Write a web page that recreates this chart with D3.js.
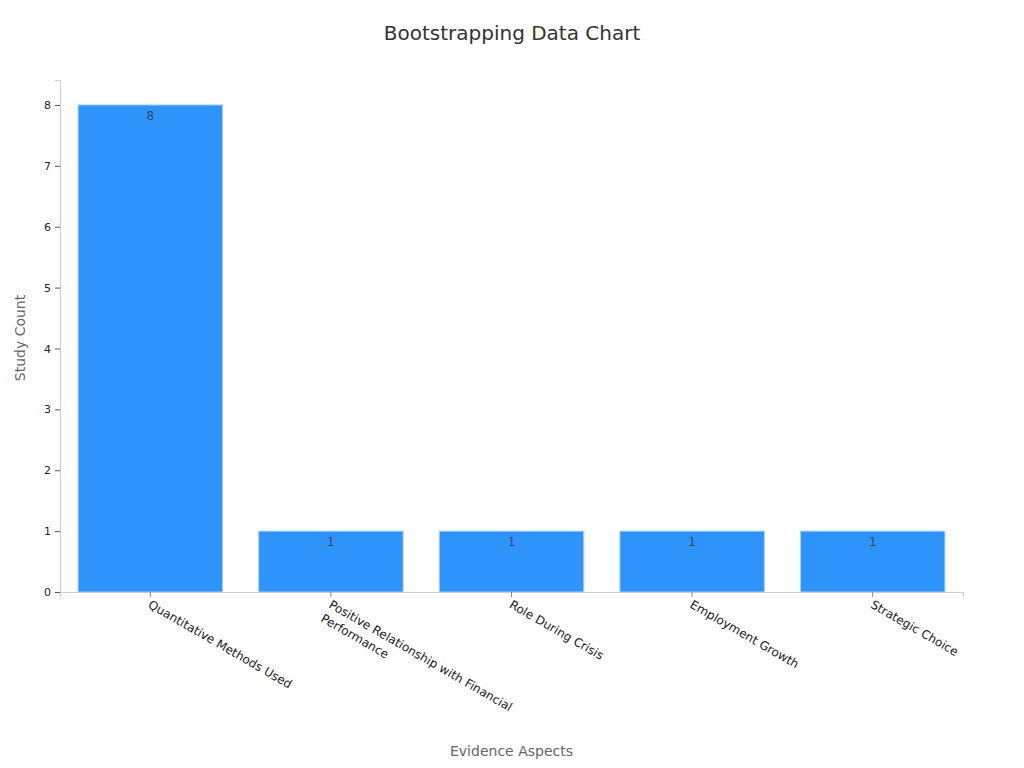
<!DOCTYPE html>
<html>
<head>
<meta charset="utf-8">
<script src="https://cdn.jsdelivr.net/npm/d3@7"></script>
<style>
  body { margin: 0; background: #fff; }
  text { font-family: "DejaVu Sans", sans-serif; }
</style>
</head>
<body>
<svg id="chart"></svg>
<script>
// data
const categories = [
    ['Quantitative Methods Used'],
    ['Positive Relationship with Financial', 'Performance'],
    ['Role During Crisis'],
    ['Employment Growth'],
    ['Strategic Choice'],
];
const studyCounts = [8, 1, 1, 1, 1];
const yTicks = [0, 1, 2, 3, 4, 5, 6, 7, 8];

const width = 1024;
const height = 768;
const margin = { top: 80, right: 61, bottom: 176, left: 60 };

const svg = d3.select('#chart')
    .attr('width', width)
    .attr('height', height);

const x = d3.scaleBand()
    .domain(d3.range(categories.length))
    .range([margin.left, width - margin.right])
    .paddingInner(0.2)
    .paddingOuter(0.1);

const y = d3.scaleLinear()
    .domain([0, 8.41])
    .range([height - margin.bottom, margin.top]);

// title
svg.append('text')
    .attr('x', width / 2)
    .attr('y', 40)
    .attr('text-anchor', 'middle')
    .attr('font-size', 20)
    .attr('fill', '#333')
    .text('Bootstrapping Data Chart');

// bars
svg.append('g')
    .selectAll('rect')
    .data(studyCounts)
    .enter()
    .append('rect')
        .attr('x', (d, i) => x(i))
        .attr('y', d => y(d))
        .attr('width', x.bandwidth())
        .attr('height', d => y(0) - y(d))
        .attr('fill', '#2e93fa')
        .attr('stroke', '#a8d0fb')
        .attr('stroke-width', 1);

// value labels
svg.append('g')
    .selectAll('text')
    .data(studyCounts)
    .enter()
    .append('text')
        .attr('x', (d, i) => x(i) + x.bandwidth() / 2)
        .attr('y', d => y(d) + 15)
        .attr('text-anchor', 'middle')
        .attr('font-size', 12)
        .attr('fill', '#3a4a5c')
        .text(d => d);

// y axis
const yAxis = svg.append('g')
    .attr('transform', `translate(${margin.left},0)`)
    .call(d3.axisLeft(y).tickValues(yTicks).tickSize(5).tickPadding(4));
yAxis.select('.domain').attr('stroke', '#ccc');
yAxis.selectAll('.tick line').attr('stroke', '#555');
yAxis.selectAll('.tick text').attr('font-size', 11).attr('fill', '#222')
    .attr('font-family', '"DejaVu Sans", sans-serif');

// x axis
const xAxis = svg.append('g')
    .attr('transform', `translate(0,${y(0)})`)
    .call(d3.axisBottom(x).tickSize(5).tickFormat(''));
xAxis.select('.domain').attr('stroke', '#ccc');
xAxis.selectAll('.tick line').attr('stroke', '#888');

const xLabels = svg.append('g')
    .selectAll('text')
    .data(categories)
    .enter()
    .append('text')
        .attr('transform', (d, i) => `translate(${x(i) + x.bandwidth() / 2 - 3},${y(0) + 15}) rotate(30)`)
        .attr('font-size', 12)
        .attr('fill', '#222');
xLabels.selectAll('tspan')
    .data(d => d)
    .enter()
    .append('tspan')
        .attr('x', 0)
        .attr('dy', (d, j) => j === 0 ? 0 : 16)
        .text(d => d);

// axis titles
svg.append('text')
    .attr('x', (margin.left + width - margin.right) / 2)
    .attr('y', 756)
    .attr('text-anchor', 'middle')
    .attr('font-size', 14)
    .attr('fill', '#666')
    .text('Evidence Aspects');

svg.append('text')
    .attr('transform', `translate(25,${(margin.top + y(0)) / 2 + 2}) rotate(-90)`)
    .attr('text-anchor', 'middle')
    .attr('font-size', 14)
    .attr('fill', '#666')
    .text('Study Count');
</script>
</body>
</html>
